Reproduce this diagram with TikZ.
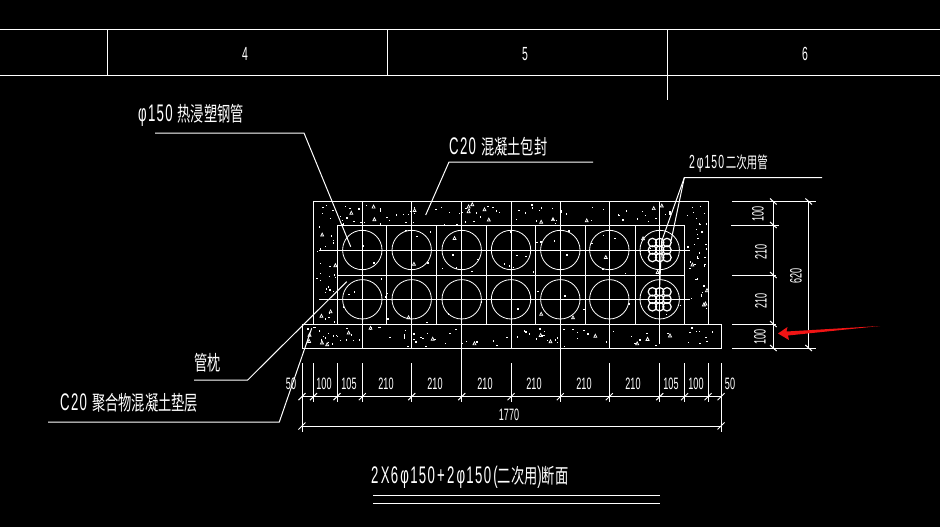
\documentclass[tikz,border=0pt]{standalone}
\usepackage{fontspec}
\setmainfont{Liberation Sans}
\newfontfamily\cadfont[LetterSpace=10]{Liberation Sans}
\newfontfamily\cjk[Scale=0.85,FakeStretch=1.18]{Noto Sans CJK SC}
\usetikzlibrary{positioning,calc}
\definecolor{markRed}{RGB}{240,20,20}

\newcommand{\speckle}[5]{%
  \foreach \i in {1,...,#5} {
    \pgfmathsetmacro{\sx}{#1+rnd*(#3-#1)}
    \pgfmathsetmacro{\sy}{#2+rnd*(#4-#2)}
    \pgfmathtruncatemacro{\skind}{mod(\i,7)}
    \ifnum\skind=0
      \draw[speckN] (\sx,\sy) -- ++(3,0) -- ++(-1.5,-3) -- cycle;
    \else
      \fill[white] (\sx,\sy) rectangle ++(1.4,1.4);
    \fi
  }%
}

\begin{document}
\begin{tikzpicture}
  [x=1pt,y=-1pt,thick,white,
   cadLine/.style={draw=white,line width=1pt},
   speckN/.style={draw=white,line width=0.7pt},
   cadText/.style={inner sep=0,text=white,transform shape,xscale=0.55},
   bigText/.style={cadText,font=\fontsize{24}{24}\selectfont\cadfont},
   midText/.style={cadText,font=\fontsize{19}{19}\selectfont\cadfont},
   dimText/.style={cadText,font=\fontsize{16.5}{16.5}\selectfont},
   vdimText/.style={inner sep=0,text=white,transform shape,rotate=90,xscale=0.55,font=\fontsize{16.5}{16.5}\selectfont},
  ]
  \fill[black] (0,0) rectangle (940,527);
  \useasboundingbox (0,0) rectangle (940,527);

  % title block
  \draw[cadLine] (0,29.5) -- (940,29.5) (0,75.5) -- (940,75.5);
  \draw[cadLine] (107,29.5) -- (107,75.5) (387,29.5) -- (387,75.5) (667,29.5) -- (667,100);
  \node[midText] (colFour) at (245,54) {4};
  \node[midText] (colFive) at (525,54) {5};
  \node[midText] (colSix) at (805,54) {6};

  % concrete body
  \draw[cadLine] (313.5,324) -- (313.5,201.7) -- (708,201.7) -- (708,324);
  \draw[cadLine] (302,324) rectangle (721,348);
  \draw[cadLine] (337,225.3) rectangle (684.3,324);
  \draw[cadLine] (337,275) -- (684.3,275);
  \foreach \x in {386.5,436.7,486.7,535.7,585.7,635}
    \draw[cadLine] (\x,225.3) -- (\x,324);
  \draw[cadLine] (319,250) -- (690,250) (319,299.3) -- (690,299.3);
  \foreach \x in {362.3,411.7,511,609.3}
    \draw[cadLine] (\x,201.7) -- (\x,348);
  \draw[cadLine] (659.7,201.7) -- (659.7,344);
  \foreach \x in {461.7,560.3}
    \draw[cadLine] (\x,201.7) -- (\x,402);

  % pipes
  \foreach \x in {362.3,411.7,461.7,511,560.3,609.3,659.7}
    \foreach \y in {250,299.3}
      \draw[draw=white,line width=0.8pt] (\x,\y) circle (19.7);
  \foreach \y in {250,299.3}
    \foreach \dx in {-7.3,0,7.3}
      \foreach \dy in {-7.5,0,7.5}
        \draw[cadLine,line width=1.2pt] (659.7+\dx,\y+\dy) circle (4.2);

  % aggregate
  \pgfmathsetseed{42}
  \speckle{316}{204}{706}{224}{100}
  \speckle{316}{226}{335}{322}{30}
  \speckle{687}{226}{706}{322}{30}
  \speckle{305}{326}{718}{346}{100}
  \speckle{339}{227}{683}{322}{60}

  % leaders
  \coordinate (pipeTip) at (350.7,246.7);
  \coordinate (pipeKnee) at (304,133);
  \coordinate (pipeEnd) at (155,133);
  \draw[cadLine] (pipeEnd) -- (pipeKnee) -- (pipeTip);
  \node[bigText,anchor=west] (pipeLbl) at (138,115) {φ150 \cjk 热浸塑钢管};

  \coordinate (casingTip) at (425.7,215);
  \coordinate (casingKnee) at (449,162);
  \coordinate (casingEnd) at (593,162);
  \draw[cadLine] (casingTip) -- (casingKnee) -- (casingEnd);
  \node[bigText,anchor=west] (casingLbl) at (449,147) {C20 \cjk 混凝土包封};

  \coordinate (spareKnee) at (684.3,177.7);
  \coordinate (spareEnd) at (822,177.7);
  \coordinate (spareTipA) at (661.7,241);
  \coordinate (spareTipB) at (671,241);
  \coordinate (spareTipC) at (659.5,290);
  \draw[cadLine] (spareEnd) -- (spareKnee) -- (spareTipA) -- (spareTipC);
  \draw[cadLine] (spareKnee) -- (spareTipB);
  \node[midText,anchor=west] (spareLbl) at (689,163.5) {2\,φ150\,\cjk 二次用管};

  \coordinate (bedTip) at (346.7,281.7);
  \coordinate (bedKnee) at (247.7,380);
  \coordinate (bedEnd) at (194,380);
  \draw[cadLine] (bedTip) -- (bedKnee) -- (bedEnd);
  \node[bigText,anchor=west] (bedLbl) at (194,363) {\cjk 管枕};

  \coordinate (baseTip) at (311.7,328.3);
  \coordinate (baseKnee) at (279.3,422);
  \coordinate (baseEnd) at (48,422);
  \draw[cadLine] (baseTip) -- (baseKnee) -- (baseEnd);
  \node[bigText,anchor=west] (baseLbl) at (60,403) {C20 \cjk 聚合物混凝土垫层};

  % bottom dimensions
  \draw[cadLine] (302,396.7) -- (721,396.7);
  \draw[cadLine] (302,426) -- (721,426);
  \foreach \x in {313.5,337,362.3,411.7,511,609.3,659.7,684.5,708}
    \draw[cadLine] (\x,363) -- (\x,402);
  \foreach \x in {302,721}
    \draw[cadLine] (\x,363) -- (\x,432);
  \foreach \x in {302,313.5,337,362.3,411.7,461.7,511,560.3,609.3,659.7,684.5,708,721}
    \draw[cadLine] (\x-3.5,400.2) -- (\x+3.5,393.2);
  \foreach \x in {302,721}
    \draw[cadLine] (\x-3.5,429.5) -- (\x+3.5,422.5);
  \foreach \x/\v/\n in {291/50/a,324/100/b,349/105/c,386/210/d,435/210/e,485/210/f,534/210/g,584/210/h,633/210/i,671/105/j,696/100/k,730/50/m}
    \node[dimText] (dim\n) at (\x,384) {\v};
  \node[dimText] (dimAll) at (509,415) {1770};

  % right dimensions
  \draw[cadLine] (732,201.5) -- (816,201.5) (731,225) -- (779,225);
  \draw[cadLine] (732,275) -- (776,275) (732,324) -- (776,324) (732,348) -- (816,348);
  \draw[cadLine] (773.3,201.5) -- (773.3,348);
  \draw[cadLine] (808.7,201.5) -- (808.7,348);
  \foreach \y in {201.5,225,275,324,348}
    \draw[cadLine] (770,\y-3) -- (776.6,\y+3);
  \foreach \y in {201.5,348}
    \draw[cadLine] (805.4,\y-3) -- (812,\y+3);
  \node[vdimText] (dimTop) at (758,214) {100};
  \node[vdimText] (dimUp) at (761,252) {210};
  \node[vdimText] (dimLow) at (761,301) {210};
  \node[vdimText] (dimBot) at (760,337) {100};
  \node[vdimText] (dimSum) at (796,276) {620};

  % red marker
  \fill[markRed] (778,333.5) -- (787.5,327) -- (786.5,331.5) -- (880,326) -- (788,335.5) -- (789,340) -- cycle;

  % caption
  \node[bigText,anchor=west] (captionLbl) at (371,477) {2\,X6\,φ150\,+\,2\,φ150\,(\cjk 二次用\cadfont)\cjk 断面};
  \draw[cadLine] (373,495) -- (660,495) (373,503) -- (660,503);
\end{tikzpicture}
\end{document}
